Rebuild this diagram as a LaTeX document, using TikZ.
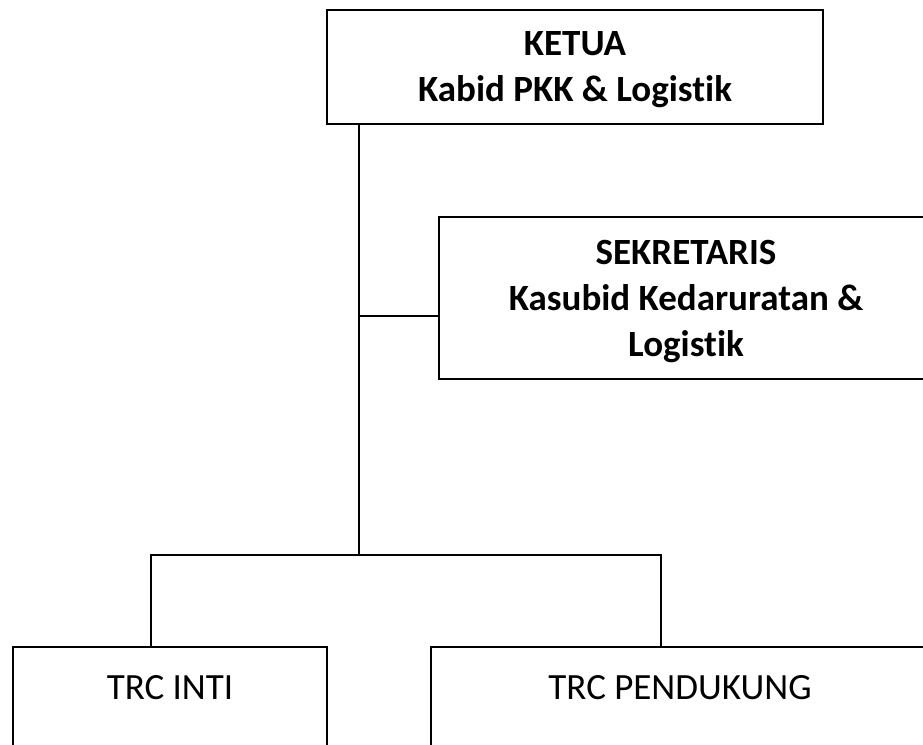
\documentclass[tikz,border=0pt]{standalone}
\usepackage{fontspec}
\setmainfont{Carlito}[Ligatures={NoCommon}]
\begin{document}
\begin{tikzpicture}[x=1pt,y=-1pt,
  box/.style={draw=black,line width=1.5pt,rectangle,inner sep=0pt},
  lbl/.style={font=\fontsize{37}{46}\selectfont\bfseries,align=center,inner sep=0pt},
  lblr/.style={font=\fontsize{37}{46}\selectfont,align=center,inner sep=0pt},
  conn/.style={draw=black,line width=1.5pt}]
\useasboundingbox (0,0) rectangle (923,744);
\clip (0,0) rectangle (923,744);
% boxes
\node[box,minimum width=496pt,minimum height=114pt] (ketua) at (575,67) {};
\node[lbl] (ketuat) at (575,70) {KETUA\\Kabid PKK \& Logistik};
\node[box,minimum width=494pt,minimum height=162pt] (sek) at (686,298) {};
\node[lbl] (sekt) at (686,301) {SEKRETARIS\\Kasubid Kedaruratan \&\\Logistik};
\node[box,anchor=north,minimum width=314pt,minimum height=140pt] (inti) at (170,646) {};
\node[lblr] (intit) at (170,688) {TRC INTI};
\node[box,anchor=north,minimum width=498pt,minimum height=140pt] (pend) at (680,646) {};
\node[lblr] (pendt) at (680,688) {TRC PENDUKUNG};
% junctions
\coordinate (j1) at (359,316);
\coordinate (j2) at (359,555);
\coordinate (bl) at (151,555);
\coordinate (br) at (661,555);
% connectors
\draw[conn] (ketua.south -| j1) -- (j2);
\draw[conn] (j1) -- (j1 -| sek.west);
\draw[conn] (inti.north -| bl) -- (bl) -- (br) -- (pend.north -| br);
\end{tikzpicture}
\end{document}
